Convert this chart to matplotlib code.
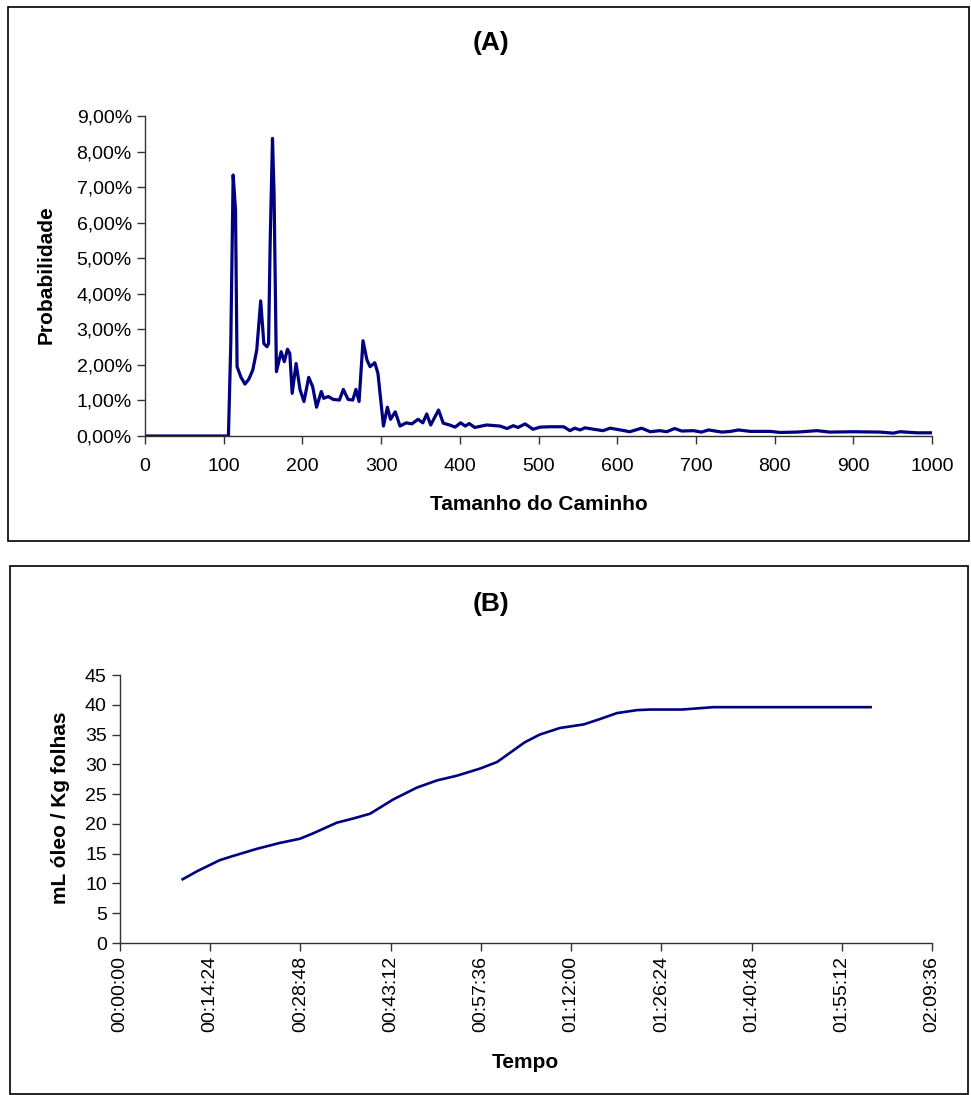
import matplotlib
matplotlib.use('Agg')
import matplotlib.pyplot as plt
from matplotlib.patches import Rectangle
from matplotlib.ticker import FuncFormatter, MultipleLocator

plt.rcParams['font.family'] = ['Liberation Sans', 'DejaVu Sans']

# (A) probabilidade x tamanho do caminho
path_len = [0, 106, 109, 112, 115, 117, 122, 127, 132, 137, 142, 147, 151, 155, 157, 159, 162, 164,
            167, 173, 177, 181, 184, 187, 192, 197, 202, 208, 213, 218, 224, 227, 233, 239, 247,
            252, 258, 264, 268, 272, 277, 282, 286, 292, 296, 303, 308, 312, 318, 324, 332,
            339, 347, 353, 358, 363, 373, 379, 387, 394, 401, 407, 412, 419, 434, 451, 460,
            468, 474, 483, 493, 502, 515, 532, 540, 546, 553, 559, 570, 582, 591, 604, 616,
            631, 642, 654, 663, 673, 682, 697, 707, 716, 733, 744, 754, 769, 794, 807, 828,
            841, 854, 870, 900, 934, 951, 959, 981, 1000]
prob = [0, 0, 2.6, 7.34, 6.36, 1.95, 1.65, 1.46, 1.6, 1.86, 2.42, 3.8, 2.6, 2.51, 2.6, 5.4, 8.37, 6.8,
        1.81, 2.37, 2.09, 2.44, 2.32, 1.2, 2.04, 1.3, 0.97, 1.65, 1.39, 0.81, 1.25, 1.06, 1.11, 1.03, 1.01,
        1.31, 1.03, 1.01, 1.31, 0.97, 2.68, 2.14, 1.95, 2.06, 1.76, 0.28, 0.81, 0.47, 0.68, 0.28, 0.37,
        0.34, 0.47, 0.37, 0.62, 0.31, 0.73, 0.36, 0.31, 0.25, 0.37, 0.28, 0.35, 0.24, 0.31, 0.28, 0.21,
        0.29, 0.24, 0.34, 0.19, 0.25, 0.26, 0.26, 0.15, 0.22, 0.17, 0.23, 0.19, 0.15, 0.22, 0.17, 0.12,
        0.22, 0.12, 0.15, 0.12, 0.21, 0.14, 0.15, 0.11, 0.17, 0.11, 0.13, 0.17, 0.13, 0.13, 0.10, 0.11,
        0.13, 0.15, 0.11, 0.12, 0.11, 0.08, 0.12, 0.09, 0.09]

# (B) rendimento de oleo x tempo (minutos)
tempo_min = [10.0, 12.4, 15.9, 18.0, 21.8, 25.5, 28.7, 30.8, 34.6, 37.2, 39.9, 43.6, 47.4,
             50.6, 53.8, 57.5, 60.2, 64.6, 67.0, 70.2, 74.0, 76.6, 79.3, 82.5, 84.6, 89.7,
             94.7, 119.8]
oleo = [10.7, 12.1, 13.9, 14.6, 15.8, 16.8, 17.5, 18.4, 20.2, 20.9, 21.7, 24.1, 26.1,
        27.3, 28.1, 29.3, 30.4, 33.7, 35.0, 36.1, 36.7, 37.6, 38.6, 39.1, 39.2, 39.2,
        39.6, 39.6]

navy = '#000080'
W, H = 971, 1095
fig = plt.figure(figsize=(W / 100, H / 100), dpi=100)

# molduras
for (x0, y0, x1, y1) in [(8, 7, 969, 541), (10, 566, 968, 1094)]:
    fig.patches.append(Rectangle((x0 / W, 1 - y1 / H), (x1 - x0) / W, (y1 - y0) / H,
                                 transform=fig.transFigure, fill=False,
                                 edgecolor='black', linewidth=1.2))


def style(ax):
    for s in ['top', 'right']:
        ax.spines[s].set_visible(False)
    for s in ['left', 'bottom']:
        ax.spines[s].set_color('#333333')
        ax.spines[s].set_linewidth(1.0)
    ax.tick_params(direction='out', length=6, width=1, colors='#333333',
                   labelcolor='black', labelsize=14)


def ftext(x, y, s, **kw):
    fig.text(x / W, 1 - y / H, s, ha='center', va='center', fontweight='bold', **kw)


# painel A
axA = fig.add_axes([145 / W, 1 - 436 / H, 787 / W, 320 / H])
axA.plot(path_len, prob, color=navy, linewidth=2.3, solid_joinstyle='round')
axA.set_xlim(0, 1000)
axA.set_ylim(0, 9)
axA.xaxis.set_major_locator(MultipleLocator(100))
axA.yaxis.set_major_locator(MultipleLocator(1))
axA.yaxis.set_major_formatter(FuncFormatter(lambda v, p: f'{v:.2f}%'.replace('.', ',')))
style(axA)
axA.tick_params(axis='x', pad=10)
ftext(539, 504, 'Tamanho do Caminho', fontsize=15)
ftext(46, 275, 'Probabilidade', fontsize=15, rotation=90)
ftext(491, 43, '(A)', fontsize=19)

# painel B
axB = fig.add_axes([120 / W, 1 - 943 / H, 812 / W, 268 / H])
axB.plot(tempo_min, oleo, color=navy, linewidth=1.9, solid_joinstyle='round')
axB.set_xlim(0, 129.6)
axB.set_ylim(0, 45)
axB.set_xticks([i * 14.4 for i in range(10)])


def hms(v, p):
    s = int(round(v * 60))
    return f'{s // 3600:02d}:{(s % 3600) // 60:02d}:{s % 60:02d}'


axB.xaxis.set_major_formatter(FuncFormatter(hms))
axB.yaxis.set_major_locator(MultipleLocator(5))
style(axB)
plt.setp(axB.get_xticklabels(), rotation=90)
ftext(525, 1062, 'Tempo', fontsize=15)
ftext(60, 808, 'mL óleo / Kg folhas', fontsize=15, rotation=90)
ftext(491, 604, '(B)', fontsize=19)

fig.savefig('out.png', dpi=100)
